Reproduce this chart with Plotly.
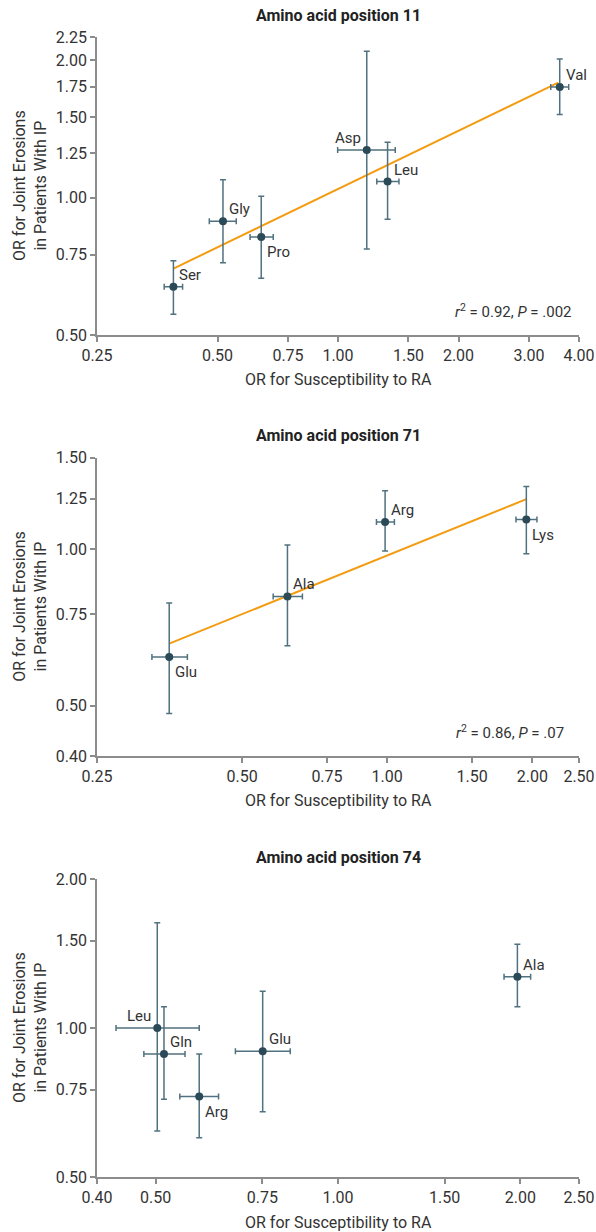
import numpy as np
import plotly.graph_objects as go

# ---------------- data ----------------
# Panel 1: amino acid position 11
p11_labels = ["Ser", "Gly", "Pro", "Asp", "Leu", "Val"]
p11_x = [0.388, 0.516, 0.643, 1.18, 1.33, 3.58]
p11_x_lo = [0.368, 0.477, 0.603, 0.998, 1.25, 3.40]
p11_x_hi = [0.409, 0.557, 0.689, 1.39, 1.42, 3.77]
p11_y = [0.638, 0.888, 0.820, 1.272, 1.085, 1.749]
p11_y_lo = [0.555, 0.720, 0.666, 0.772, 0.897, 1.521]
p11_y_hi = [0.727, 1.094, 1.007, 2.094, 1.322, 2.014]
p11_pos = ["top right", "top right", "bottom right", "top left", "top right", "top right"]
p11_fit_x = [0.388, 3.55]
p11_fit_y = [0.699, 1.788]
p11_stat = "<i>r</i><sup>2</sup> = 0.92, <i>P</i> = .002"
p11_xticks = [0.25, 0.50, 0.75, 1.00, 1.50, 2.00, 3.00, 4.00]
p11_yticks = [0.50, 0.75, 1.00, 1.25, 1.50, 1.75, 2.00, 2.25]

# Panel 2: amino acid position 71
p71_labels = ["Glu", "Ala", "Arg", "Lys"]
p71_x = [0.353, 0.621, 0.99, 1.944]
p71_x_lo = [0.325, 0.580, 0.95, 1.85]
p71_x_hi = [0.385, 0.667, 1.035, 2.045]
p71_y = [0.620, 0.811, 1.128, 1.14]
p71_y_lo = [0.483, 0.652, 0.992, 0.98]
p71_y_hi = [0.788, 1.019, 1.296, 1.32]
p71_pos = ["bottom right", "top right", "top right", "bottom right"]
p71_fit_x = [0.353, 1.944]
p71_fit_y = [0.658, 1.248]
p71_stat = "<i>r</i><sup>2</sup> = 0.86, <i>P</i> = .07"
p71_xticks = [0.25, 0.50, 0.75, 1.00, 1.50, 2.00, 2.50]
p71_yticks = [0.40, 0.50, 0.75, 1.00, 1.25, 1.50]

# Panel 3: amino acid position 74
p74_labels = ["Leu", "Gln", "Arg", "Glu", "Ala"]
p74_x = [0.503, 0.516, 0.590, 0.751, 1.978]
p74_x_lo = [0.430, 0.478, 0.548, 0.677, 1.88]
p74_x_hi = [0.590, 0.559, 0.635, 0.834, 2.08]
p74_y = [1.0, 0.886, 0.727, 0.897, 1.269]
p74_y_lo = [0.619, 0.718, 0.600, 0.677, 1.104]
p74_y_hi = [1.632, 1.104, 0.886, 1.186, 1.476]
p74_pos = ["top left", "top right", "bottom right", "top right", "top right"]
p74_xticks = [0.40, 0.50, 0.75, 1.00, 1.50, 2.00, 2.50]
p74_yticks = [0.50, 0.75, 1.00, 1.50, 2.00]

titles = ["Amino acid position 11", "Amino acid position 71", "Amino acid position 74"]
x_title = "OR for Susceptibility to RA"
y_title = "OR for Joint Erosions<br>in Patients With IP"

# ---------------- style ----------------
FONT = "Roboto"
TXT = "#333333"
MARKER = "#2b4a58"
ERR = "#50717f"
ORANGE = "#f39c12"
GRID = "#e8e8e8"
AXIS = "#8c8c8c"

domains = [(0.7386, 1.0), (0.3693, 0.631), (0.0, 0.2614)]
stat_x = [0.99, 0.972, None]

panels = [
    dict(lab=p11_labels, x=p11_x, xlo=p11_x_lo, xhi=p11_x_hi, y=p11_y, ylo=p11_y_lo, yhi=p11_y_hi,
         pos=p11_pos, fx=p11_fit_x, fy=p11_fit_y, stat=p11_stat, xt=p11_xticks, yt=p11_yticks),
    dict(lab=p71_labels, x=p71_x, xlo=p71_x_lo, xhi=p71_x_hi, y=p71_y, ylo=p71_y_lo, yhi=p71_y_hi,
         pos=p71_pos, fx=p71_fit_x, fy=p71_fit_y, stat=p71_stat, xt=p71_xticks, yt=p71_yticks),
    dict(lab=p74_labels, x=p74_x, xlo=p74_x_lo, xhi=p74_x_hi, y=p74_y, ylo=p74_y_lo, yhi=p74_y_hi,
         pos=p74_pos, fx=None, fy=None, stat=None, xt=p74_xticks, yt=p74_yticks),
]

fig = go.Figure()
layout = dict(
    width=596, height=1232,
    margin=dict(l=97, r=17, t=37, b=55, autoexpand=False),
    paper_bgcolor="white", plot_bgcolor="white",
    showlegend=False,
    font=dict(family=FONT, size=15, color=TXT),
)
shapes = []
annotations = []

for i, p in enumerate(panels):
    n = "" if i == 0 else str(i + 1)
    xa, ya = "x" + n, "y" + n
    xaxis_key, yaxis_key = "xaxis" + n, "yaxis" + n

    x = np.array(p["x"]); y = np.array(p["y"])
    ex_p = np.array(p["xhi"]) - x; ex_m = x - np.array(p["xlo"])
    ey_p = np.array(p["yhi"]) - y; ey_m = y - np.array(p["ylo"])

    # gridlines (except axis baseline and the reference line at 1)
    for t in p["yt"][1:]:
        if abs(t - 1.0) < 1e-9:
            continue
        shapes.append(dict(type="line", xref=xa + " domain", yref=ya, x0=0, x1=1,
                           y0=np.log10(t), y1=np.log10(t), line=dict(color=GRID, width=1.5), layer="below"))
    # dotted reference lines at OR = 1
    shapes.append(dict(type="line", xref=xa, yref=ya + " domain", x0=np.log10(1.0), x1=np.log10(1.0),
                       y0=0, y1=1, line=dict(color="#555555", width=1, dash="dot"), layer="below"))
    shapes.append(dict(type="line", xref=xa + " domain", yref=ya, x0=0, x1=1,
                       y0=np.log10(1.0), y1=np.log10(1.0), line=dict(color="#555555", width=1, dash="dot"), layer="below"))

    if p["fx"] is not None:
        fig.add_trace(go.Scatter(x=p["fx"], y=p["fy"], mode="lines", xaxis=xa, yaxis=ya,
                                 line=dict(color=ORANGE, width=2), hoverinfo="skip"))

    fig.add_trace(go.Scatter(
        x=x, y=y, mode="markers", xaxis=xa, yaxis=ya,
        marker=dict(color=MARKER, size=8),
        error_x=dict(type="data", symmetric=False, array=ex_p, arrayminus=ex_m,
                     color=ERR, thickness=1.5, width=3),
        error_y=dict(type="data", symmetric=False, array=ey_p, arrayminus=ey_m,
                     color=ERR, thickness=1.5, width=3),
    ))
    # labels
    for lab, xv, yv, pos in zip(p["lab"], p["x"], p["y"], p["pos"]):
        xs = 4 if "right" in pos else -4
        ys = 12 if "top" in pos else -15
        annotations.append(dict(x=np.log10(xv), y=np.log10(yv), xref=xa, yref=ya, text=lab,
                                showarrow=False, xanchor="left" if xs > 0 else "right",
                                yanchor="middle", xshift=xs, yshift=ys,
                                font=dict(family=FONT, size=15, color=TXT)))

    xr = [np.log10(p["xt"][0]), np.log10(p["xt"][-1])]
    yr = [np.log10(p["yt"][0]), np.log10(p["yt"][-1])]
    layout[xaxis_key] = dict(
        type="log", range=xr, anchor=ya, domain=[0, 1], automargin=False,
        tickvals=p["xt"], ticktext=[f"{t:.2f}" for t in p["xt"]],
        showgrid=False, zeroline=False, showline=True, linecolor=AXIS, linewidth=1.5,
        ticks="outside", ticklen=5, tickcolor=AXIS, tickwidth=1.5,
        tickfont=dict(family=FONT, size=16, color=TXT),
    )
    layout[yaxis_key] = dict(
        type="log", range=yr, anchor=xa, domain=list(domains[i]), automargin=False,
        tickvals=p["yt"], ticktext=[f"{t:.2f}" for t in p["yt"]],
        showgrid=False, zeroline=False, showline=True, linecolor=AXIS, linewidth=1.5,
        ticks="outside", ticklen=5, tickcolor=AXIS, tickwidth=1.5,
        tickfont=dict(family=FONT, size=16, color=TXT),
    )
    # panel title
    annotations.append(dict(x=0.5, y=1, xref=xa + " domain", yref=ya + " domain", yshift=22,
                            text="<b>" + titles[i] + "</b>", showarrow=False,
                            xanchor="center", yanchor="middle",
                            font=dict(family=FONT, size=16, color="#222222")))
    # x axis title
    annotations.append(dict(x=0.5, y=0, xref=xa + " domain", yref=ya + " domain", yshift=-45,
                            text=x_title, showarrow=False, xanchor="center", yanchor="middle",
                            font=dict(family=FONT, size=16, color=TXT)))
    # y axis title
    annotations.append(dict(x=0, y=0.5, xref=xa + " domain", yref=ya + " domain", xshift=-67,
                            text=y_title, showarrow=False, textangle=-90,
                            xanchor="center", yanchor="middle",
                            font=dict(family=FONT, size=16, color=TXT)))
    if p["stat"] is not None:
        annotations.append(dict(x=stat_x[i], y=0.08, xref=xa + " domain", yref=ya + " domain",
                                text=p["stat"], showarrow=False, xanchor="right", yanchor="middle",
                                font=dict(family=FONT, size=15, color=TXT)))

layout["shapes"] = shapes
layout["annotations"] = annotations
fig.update_layout(**layout)
fig.write_html("out.html", config={"displayModeBar": False},
               post_script="document.body.style.margin='0';")
